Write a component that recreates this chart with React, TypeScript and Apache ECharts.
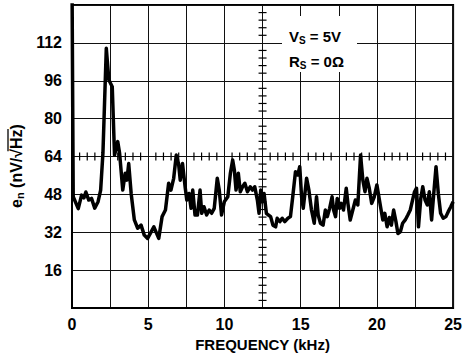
import React, { useEffect, useRef } from "react";
import * as echarts from "echarts";

// Frequency (kHz) and voltage noise density e_n (nV/√Hz)
const freqKHz: number[] = [
  0, 0.08, 0.41, 0.63, 0.78, 0.91, 1.1, 1.28, 1.49, 1.71, 1.88, 2.03, 2.25, 2.42, 2.64, 2.79, 3.0, 3.12,
  3.33, 3.49, 3.6, 3.72, 3.88, 4.09, 4.31, 4.53, 4.74, 4.96, 5.37, 5.69, 5.91, 6.13, 6.34, 6.49, 6.67,
  6.84, 6.99, 7.1, 7.25, 7.42, 7.53, 7.68, 7.81, 7.92, 8.07, 8.23, 8.4, 8.51, 8.66, 8.83, 9.0, 9.16,
  9.33, 9.53, 9.66, 9.81, 10.0, 10.22, 10.39, 10.54, 10.65, 10.76, 10.91, 11.04, 11.19, 11.34, 11.51,
  11.69, 11.84, 11.99, 12.16, 12.27, 12.38, 12.49, 12.6, 12.75, 12.88, 13.03, 13.18, 13.36, 13.46,
  13.64, 13.79, 13.96, 14.16, 14.33, 14.48, 14.66, 14.81, 14.94, 15.06, 15.17, 15.39, 15.54, 15.71,
  15.89, 16.04, 16.15, 16.3, 16.47, 16.62, 16.75, 16.9, 17.06, 17.16, 17.29, 17.4, 17.55, 17.66, 17.81,
  17.99, 18.1, 18.25, 18.42, 18.59, 18.75, 18.93, 19.08, 19.22, 19.35, 19.5, 19.66, 19.83, 20.0, 20.24,
  20.39, 20.52, 20.67, 20.82, 20.95, 21.1, 21.25, 21.38, 21.54, 21.69, 21.86, 22.03, 22.19, 22.34,
  22.47, 22.6, 22.73, 22.88, 23.01, 23.16, 23.31, 23.44, 23.59, 23.75, 23.88, 24.03, 24.18, 24.35,
  24.53, 24.68, 24.85, 25.0,
];
const noiseNV: number[] = [
  140, 47, 42, 47.7, 46.5, 49, 45.6, 46.3, 42.2, 44.9, 49.8, 65.5, 109.7, 96.3, 93.5, 64.6, 70.3, 65.5,
  49.8, 56.9, 54, 61, 48.4, 37.2, 33.7, 35, 30.8, 29.4, 34.3, 29.4, 38.6, 41.4, 52.7, 49.8, 54.8,
  64.6, 61, 54, 61, 51.2, 45.6, 48.4, 42.1, 49.8, 39.3, 39.3, 49.8, 40, 42.8, 39.3, 41.4, 40,
  42.1, 54.8, 49.8, 39.3, 45, 47, 56.9, 62.5, 58.3, 49.8, 56.9, 49.1, 51.2, 52.7, 49.1,
  51.2, 49.8, 51.2, 45.6, 40, 49.8, 44.9, 48.4, 40, 39.3, 38.6, 35, 34.3, 37.9,
  36.5, 37.9, 36.5, 37.9, 38.6, 47, 57.6, 56.2, 59.7, 47, 42.1, 54.8, 49.8, 41.4,
  35.8, 47, 39.3, 35.8, 35, 41.4, 38.6, 42.1, 47, 41.4, 38.6, 46.3, 42.1, 44.2, 41.4,
  50.6, 44.2, 37.2, 41.4, 45.6, 43.5, 64.6, 54, 49.1, 54.8, 50.6, 44.2, 47, 52, 42.8,
  37.2, 40, 34.3, 38.2, 35, 41.4, 36.5, 31.5, 32.2, 35.8, 37.2, 39.3, 41.4, 45.6,
  49.1, 50.6, 34.3, 46.3, 51.2, 45.6, 43.5, 49.1, 37.2, 49.8, 59.7, 48.4, 40, 37.9,
  38.6, 40.7, 42.8, 44.9,
];

// Axis settings
const xMin = 0;
const xMax = 25;
const xStep = 2.5;
const xLabeled = [0, 5, 10, 15, 20, 25];
const yMin = 0;
const yMax = 128;
const yStep = 16;
const yLabeled = [16, 32, 48, 64, 80, 96, 112];

// Minor ticks on the centre cross-hair lines
const crossX = 12.5;
const crossY = 64;
const minorTicksOnH: number[] = [0.5, 1, 1.5, 2, 3, 3.5, 4, 4.5, 5.5, 6, 6.5, 7, 8, 8.5, 9, 9.5, 10.5, 11, 11.5, 12, 13, 13.5, 14, 14.5, 15.5, 16, 16.5, 17, 18, 18.5, 19, 19.5, 20.5, 21, 21.5, 22, 23, 23.5, 24, 24.5];
const minorTicksOnV: number[] = [3.2, 6.4, 9.6, 12.8, 19.2, 22.4, 25.6, 28.8, 35.2, 38.4, 41.6, 44.8, 51.2, 54.4, 57.6, 60.8, 67.2, 70.4, 73.6, 76.8, 83.2, 86.4, 89.6, 92.8, 99.2, 102.4, 105.6, 108.8, 115.2, 118.4, 121.6, 124.8];

const FONT_FAMILY = '"Liberation Sans", Arial, Helvetica, sans-serif';

function measure(text: string, size: number): number {
  const c = document.createElement("canvas").getContext("2d");
  if (!c) return text.length * size * 0.6;
  c.font = `bold ${size}px ${FONT_FAMILY}`;
  return c.measureText(text).width;
}

type Piece = { t: string; size: number; dy: number };

function buildPieces(items: Piece[], x0: number, y0: number) {
  const out: any[] = [];
  const xs: number[] = [];
  let x = x0;
  for (const it of items) {
    xs.push(x);
    out.push({
      type: "text",
      x,
      y: y0 + it.dy,
      style: {
        text: it.t,
        fontSize: it.size,
        fontWeight: "bold",
        fontFamily: FONT_FAMILY,
        fill: "#000",
        align: "left",
        verticalAlign: "middle",
      },
      z: 20,
    });
    x += measure(it.t, it.size);
  }
  xs.push(x);
  return { els: out, xs };
}

export default function App() {
  const ref = useRef<HTMLDivElement>(null);

  useEffect(() => {
    if (!ref.current) return;
    const chart = echarts.init(ref.current, null, { renderer: "svg" });

    const lineData = freqKHz.map((f, i) => [f, noiseNV[i]]);
    const tickData = [
      ...minorTicksOnH.map((f) => [f, crossY, 0]),
      ...minorTicksOnV.map((v) => [crossX, v, 1]),
    ];

    const vs = buildPieces(
      [
        { t: "V", size: 15, dy: 0 },
        { t: "S", size: 10, dy: 4 },
        { t: " = 5V", size: 15, dy: 0 },
      ],
      289,
      36
    );
    const rs = buildPieces(
      [
        { t: "R", size: 15, dy: 0 },
        { t: "S", size: 10, dy: 4 },
        { t: " = 0Ω", size: 15, dy: 0 },
      ],
      289,
      61
    );
    const title = buildPieces(
      [
        { t: "e", size: 16, dy: 0 },
        { t: "n", size: 11, dy: 4 },
        { t: " (nV/", size: 16, dy: 0 },
        { t: "√", size: 16, dy: 0 },
        { t: "Hz", size: 16, dy: 0 },
        { t: ")", size: 16, dy: 0 },
      ],
      0,
      0
    );
    const sqrtStart = title.xs[3];
    const hzEnd = title.xs[5];

    chart.setOption({
      animation: false,
      backgroundColor: "#fff",
      grid: {
        left: 72,
        right: 8,
        top: 5,
        bottom: 50,
        show: true,
        borderColor: "#000",
        borderWidth: 2,
      },
      xAxis: {
        type: "value",
        min: xMin,
        max: xMax,
        interval: xStep,
        axisLine: { show: true, lineStyle: { color: "#000", width: 2 } },
        axisTick: { show: false },
        axisLabel: {
          margin: 8,
          color: "#000",
          fontSize: 16,
          fontWeight: "bold",
          fontFamily: FONT_FAMILY,
          formatter: (v: number) => (xLabeled.includes(v) ? String(v) : ""),
        },
        splitLine: { show: true, lineStyle: { color: "#111", width: 1 } },
        name: "FREQUENCY (kHz)",
        nameLocation: "middle",
        nameGap: 28,
        nameTextStyle: {
          color: "#000",
          fontSize: 15,
          fontWeight: "bold",
          fontFamily: FONT_FAMILY,
        },
      },
      yAxis: {
        type: "value",
        min: yMin,
        max: yMax,
        interval: yStep,
        axisLine: { show: true, lineStyle: { color: "#000", width: 2 } },
        axisTick: { show: false },
        axisLabel: {
          margin: 10,
          color: "#000",
          fontSize: 16,
          fontWeight: "bold",
          fontFamily: FONT_FAMILY,
          formatter: (v: number) => (yLabeled.includes(v) ? String(v) : ""),
        },
        splitLine: { show: true, lineStyle: { color: "#111", width: 1 } },
      },
      graphic: [
        {
          type: "rect",
          shape: { x: 282, y: 16, width: 75, height: 56 },
          style: { fill: "#fff" },
          z: 15,
        },
        ...vs.els,
        ...rs.els,
        {
          type: "group",
          x: 16,
          y: 208,
          rotation: Math.PI / 2,
          children: [
            ...title.els,
            {
              type: "line",
              shape: { x1: sqrtStart + measure("√", 16) * 0.75, y1: -8, x2: hzEnd + 0.5, y2: -8 },
              style: { stroke: "#000", lineWidth: 1.3 },
              z: 20,
            },
          ],
        },
      ],
      series: [
        {
          type: "custom",
          silent: true,
          z: 3,
          renderItem: (params: any, api: any) => {
            const p = api.coord([api.value(0), api.value(1)]);
            const dir = api.value(2);
            const shape =
              dir === 0
                ? { x1: p[0], y1: p[1] - 4, x2: p[0], y2: p[1] + 4 }
                : { x1: p[0] - 4, y1: p[1], x2: p[0] + 4, y2: p[1] };
            return { type: "line", shape, style: { stroke: "#000", lineWidth: 1.2 } };
          },
          data: tickData,
        },
        {
          type: "line",
          data: lineData,
          showSymbol: false,
          symbol: "none",
          clip: true,
          z: 5,
          lineStyle: { color: "#000", width: 3.5, join: "round" },
        },
      ],
    });

    return () => chart.dispose();
  }, []);

  return (
    <div
      ref={ref}
      style={{ position: "fixed", left: 0, top: 0, width: 465, height: 358 }}
    />
  );
}
